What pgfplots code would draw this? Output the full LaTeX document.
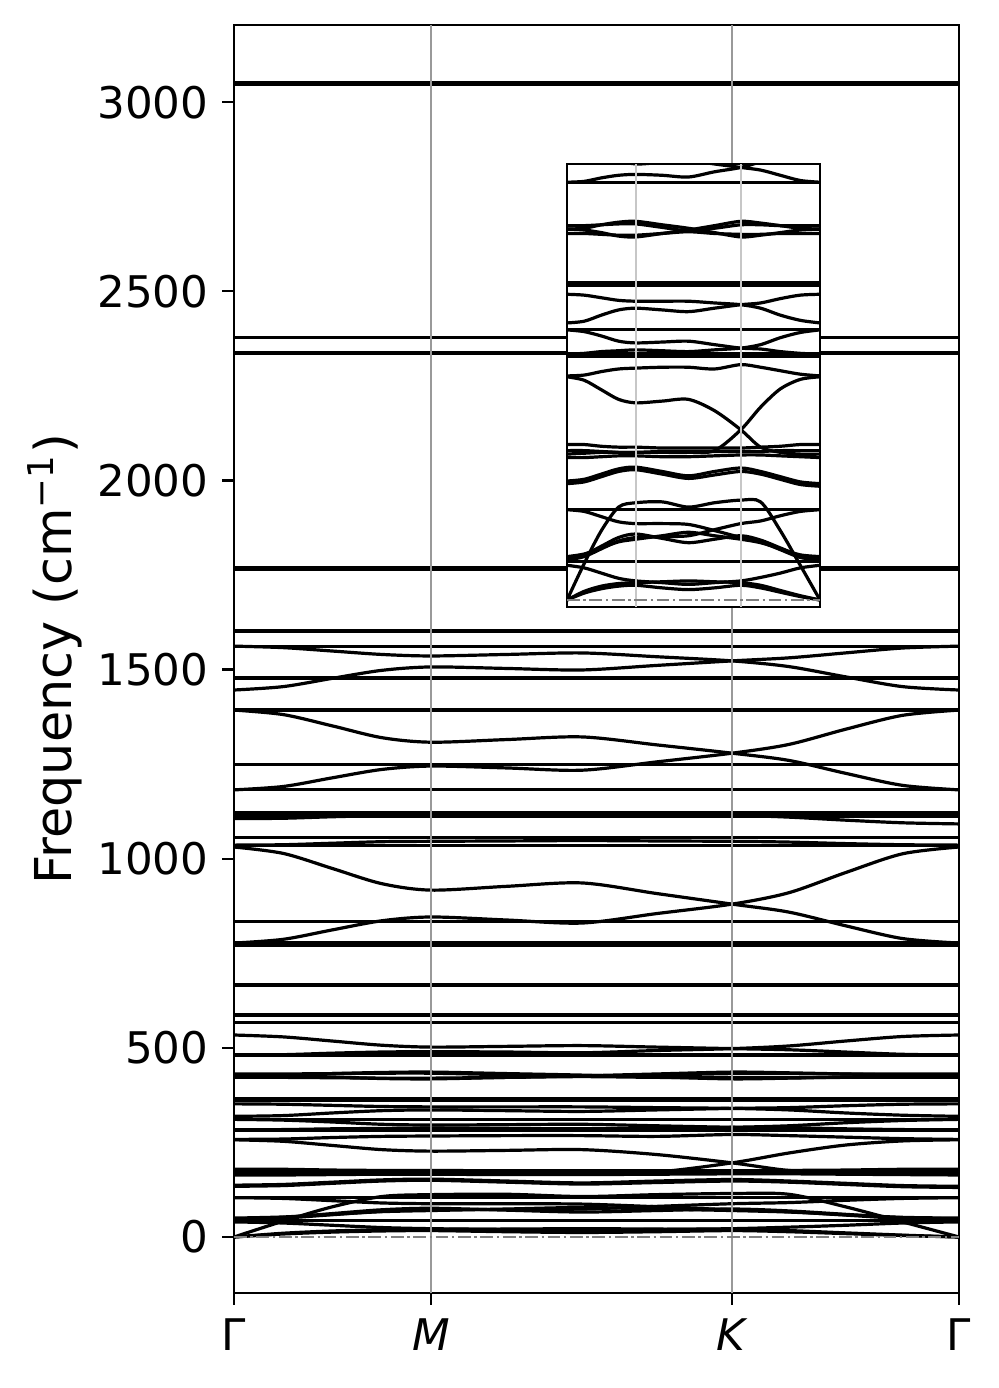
\documentclass[border=0pt]{standalone}
\usepackage{fontspec}
\setmainfont{DejaVu Sans}
\usepackage{pgfplots}
\usepackage{pgfplotstable}
\pgfplotsset{compat=1.18}

% dispersionless branches: value at Gamma and at the end of the path
\pgfplotstableread{
x f1 f2 f3 f4 f5 f6 f7 f8 f9 f10 f11 f12 f13 f14 f15 f16 f17 f18 f19 f20 f21 f22 f23 f24 f25 f26 f27 f28 f29 f30 f31 f32
0 3052 3048 2378 2338 2335 1770 1766 1604 1600 1562 1478 1393 1250 1182 1121 1113 1057 1036 835 777 770 666 587 568 481 366 362 311 284 281 104 44
1 3052 3048 2378 2338 2335 1770 1766 1604 1600 1562 1478 1393 1250 1182 1121 1113 1057 1036 835 777 770 666 587 568 481 366 362 311 284 281 104 44
}\flatbands

% dispersive branches along Gamma-M-K-Gamma
\pgfplotstableread{
x     A    B    C    D    E    F    G    H    I1  I2  L1  L2  L3  L4  M1  M2  P1  P2  Q   J   K   T1  T2  T3  N1  N2  A3  R1  R2  R3  R4  S1  A1  A2
0     1562 1446 1393 1182 1106 1036 1031 777  534 481 427 427 431 422 352 319 311 283 258 257 168 179 172 164 137 134 0   104 46  50  48  40  0   0
0.068 1558 1455 1381 1191 1107 1037 1014 787  529 482 428 426 431 422 351 321 309 284 259 253 169 179 172 164 139 136 42  102 50  53  52  37  8   10
0.136 1549 1477 1351 1214 1111 1041 974  812  518 486 432 423 432 421 348 328 304 286 263 242 170 177 171 165 145 142 80  96  59  60  62  31  13  16
0.204 1540 1498 1320 1236 1114 1045 934  836  507 489 435 419 433 420 345 334 298 287 266 231 170 176 170 166 151 148 107 90  68  67  72  25  16  19
0.272 1536 1507 1308 1245 1115 1046 917  846  502 490 436 418 433 420 344 336 296 288 267 227 170 176 170 166 153 150 112 88  72  70  76  22  17  20
0.376 1540 1503 1315 1240 1115 1047 927  838  504 489 432 422 429 422 344 334 297 287 268 229 170 175 171 165 148 145 113 88  73  74  71  20  14  21
0.48  1544 1499 1322 1234 1116 1048 936  830  506 487 428 426 425 424 344 332 298 286 268 231 170 175 171 165 143 140 107 87  74  78  66  18  12  22
0.583 1534 1511 1301 1256 1116 1047 908  855  502 493 423 431 428 422 342 336 294 288 266 218 172 175 171 166 148 144 112 80  81  74  70  20  14  21
0.687 1523 1523 1279 1279 1115 1046 880  880  498 498 418 436 432 421 340 340 290 290 271 196 196 175 171 167 152 148 115 72  88  70  74  22  17  20
0.765 1508 1531 1260 1302 1110 1044 859  910  495 505 420 434 432 421 336 342 289 294 268 176 222 176 171 167 148 145 113 67  91  66  69  26  14  17
0.843 1481 1544 1226 1342 1102 1040 823  963  489 518 423 431 431 422 328 347 286 302 264 170 243 177 172 166 142 139 80  58  97  59  60  31  9   11
0.922 1455 1557 1194 1379 1095 1037 789  1013 483 530 426 428 431 422 322 351 284 308 260 168 254 179 172 165 136 133 40  49  102 52  51  37  4   5
1     1446 1562 1182 1393 1092 1036 777  1031 481 534 427 427 431 422 319 352 283 311 258 168 257 179 172 164 134 131 0   46  104 50  48  40  0   0
}\dispbands

\pgfplotsset{
  band/.style={black, line width=0.8pt},
  zeroline/.style={black!50, line width=0.55pt,
    dash pattern=on 3.2pt off 0.9pt on 0.6pt off 0.9pt},
}

\newcommand{\drawbands}{%
  \pgfplotsinvokeforeach{1,...,32}{%
    \addplot[band] table[x=x, y=f##1] {\flatbands};}
  \pgfplotsinvokeforeach{A,B,C,D,E,F,G,H,I1,I2,L1,L2,L3,L4,M1,M2,P1,P2,Q,J,K,T1,T2,T3,N1,N2,A3,R1,R2,R3,R4,S1,A1,A2}{%
    \addplot[band, smooth] table[x=x, y=##1] {\dispbands};}
}

\begin{document}
\begin{tikzpicture}
\useasboundingbox (-58.5pt,-23.75pt) rectangle (191pt,323.25pt);

\begin{axis}[
    name=main, at={(0,0)}, anchor=south west,
    scale only axis, width=181.25pt, height=317pt,
    xmin=0, xmax=1, ymin=-148, ymax=3204,
    xtick={0,0.272,0.687,1},
    xticklabels={Γ,\textit{M},\textit{K},Γ},
    ytick={0,500,...,3000},
    xtick pos=bottom, ytick pos=left,
    tick align=outside, major tick length=2.9pt,
    tick style={black, line width=0.6pt},
    axis line style={line width=0.6pt},
    /pgf/number format/assume math mode=true,
    /pgf/number format/1000 sep={},
    tick label style={font=\fontsize{10.9}{13}\selectfont},
    ylabel={Frequency (cm\textsuperscript{−1})},
    label style={font=\fontsize{12.7}{15}\selectfont},
    ylabel style={at={(axis description cs:-0.247,0.5)}, anchor=center},
  ]
  \drawbands
  \addplot[color=black!40, line width=0.6pt] coordinates {(0.272,-148) (0.272,3204)};
  \addplot[color=black!40, line width=0.6pt] coordinates {(0.687,-148) (0.687,3204)};
  \addplot[zeroline] coordinates {(0,0) (1,0)};
\end{axis}

\begin{axis}[
    name=inset, at={(83.25pt,171.5pt)}, anchor=south west,
    scale only axis, width=63.25pt, height=110.75pt,
    xmin=0, xmax=1, ymin=-8, ymax=502,
    ticks=none,
    axis line style={line width=0.6pt},
    axis background/.style={fill=white},
  ]
  \drawbands
  \addplot[color=black!22, line width=0.55pt] coordinates {(0.272,-8) (0.272,502)};
  \addplot[color=black!22, line width=0.55pt] coordinates {(0.687,-8) (0.687,502)};
  \addplot[zeroline] coordinates {(0,0) (1,0)};
\end{axis}
\end{tikzpicture}
\end{document}
